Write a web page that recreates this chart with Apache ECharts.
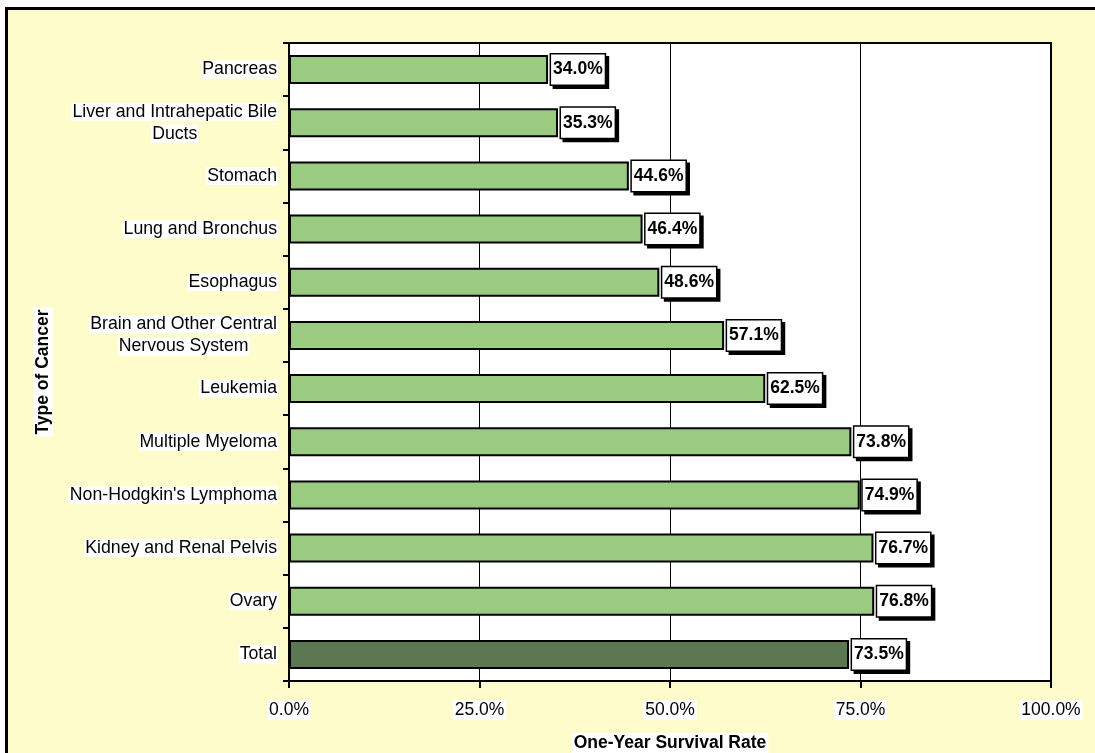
<!DOCTYPE html>
<html>
<head>
<meta charset="utf-8">
<script src="https://cdn.jsdelivr.net/npm/echarts@6/dist/echarts.min.js"></script>
<style>
  html, body { margin: 0; padding: 0; background: #ffffff; overflow: hidden; }
  #frame { position: absolute; left: 5px; top: 7px; width: 1200px; height: 900px; border: 3px solid #000; background: #FFFCCC; }
  #chart { position: absolute; left: 0; top: 0; width: 1095px; height: 753px; }
</style>
</head>
<body>
<div id="frame"></div>
<div id="chart"></div>
<script>
const categories = [
  'Pancreas',
  'Liver and Intrahepatic Bile\nDucts',
  'Stomach',
  'Lung and Bronchus',
  'Esophagus',
  'Brain and Other Central\nNervous System',
  'Leukemia',
  'Multiple Myeloma',
  "Non-Hodgkin's Lymphoma",
  'Kidney and Renal Pelvis',
  'Ovary',
  'Total'
];
const survivalRates = [34.0, 35.3, 44.6, 46.4, 48.6, 57.1, 62.5, 73.8, 74.9, 76.7, 76.8, 73.5];
const xTicks = [0, 25, 50, 75, 100];

const FONT = 'Arial, "Liberation Sans", sans-serif';
const LIGHT = '#9BCB80';
const DARK = '#5C7852';

const chart = echarts.init(document.getElementById('chart'), null, { renderer: 'canvas' });

const option = {
  backgroundColor: 'transparent',
  animation: false,
  grid: {
    left: 289, right: 44, top: 43, bottom: 72,
    containLabel: false,
    outerBoundsMode: 'none',
    show: true, backgroundColor: '#ffffff', borderColor: '#000', borderWidth: 2
  },
  xAxis: {
    type: 'value',
    min: xTicks[0], max: xTicks[xTicks.length - 1], interval: xTicks[1] - xTicks[0],
    name: 'One-Year Survival Rate',
    nameLocation: 'middle',
    nameGap: 52,
    nameTextStyle: { fontFamily: FONT, fontSize: 17.5, fontWeight: 'bold', color: '#000', backgroundColor: '#fff', padding: [1, 2] },
    axisLine: { show: true, lineStyle: { color: '#000', width: 2 } },
    axisTick: { show: true, length: 7, lineStyle: { color: '#000', width: 2 } },
    splitLine: { show: true, lineStyle: { color: '#000', width: 1 } },
    axisLabel: {
      formatter: v => v.toFixed(1) + '%',
      fontFamily: FONT, fontSize: 17.5, color: '#000',
      backgroundColor: '#fff', padding: [1, 2], margin: 19
    }
  },
  yAxis: {
    type: 'category',
    inverse: true,
    data: categories,
    name: '{a|Type of Cancer}{s|}',
    nameLocation: 'middle',
    nameGap: 236,
    nameTextStyle: {
      rich: {
        a: { fontFamily: FONT, fontSize: 17.5, fontWeight: 'bold', color: '#000', backgroundColor: '#fff', padding: [1, 2] },
        s: { width: 20 }
      }
    },
    axisLine: { show: true, lineStyle: { color: '#000', width: 2 } },
    axisTick: { show: true, length: 6, lineStyle: { color: '#000', width: 2 } },
    splitLine: { show: false },
    axisLabel: {
      margin: 11,
      formatter: v => v.split('\n').map(l => '{c|' + l + '}').join('\n'),
      rich: {
        c: { fontFamily: FONT, fontSize: 17.7, color: '#000', align: 'center', lineHeight: 22, backgroundColor: '#fff', padding: [0, 1] }
      }
    }
  },
  series: [{
    type: 'bar',
    barWidth: 29,
    data: survivalRates.map((v, i) => ({
      value: v,
      itemStyle: { color: categories[i] === 'Total' ? DARK : LIGHT }
    })),
    itemStyle: { borderColor: '#000', borderWidth: 2 },
    label: {
      show: true,
      position: 'right',
      distance: 3,
      formatter: p => p.value.toFixed(1) + '%',
      fontFamily: FONT, fontSize: 17.5, fontWeight: 'bold', color: '#000',
      lineHeight: 20,
      backgroundColor: '#fff',
      borderColor: '#000', borderWidth: 1.5,
      padding: [5, 2],
      shadowColor: '#000', shadowOffsetX: 3, shadowOffsetY: 3, shadowBlur: 0
    }
  }]
};
chart.setOption(option);
</script>
</body>
</html>
